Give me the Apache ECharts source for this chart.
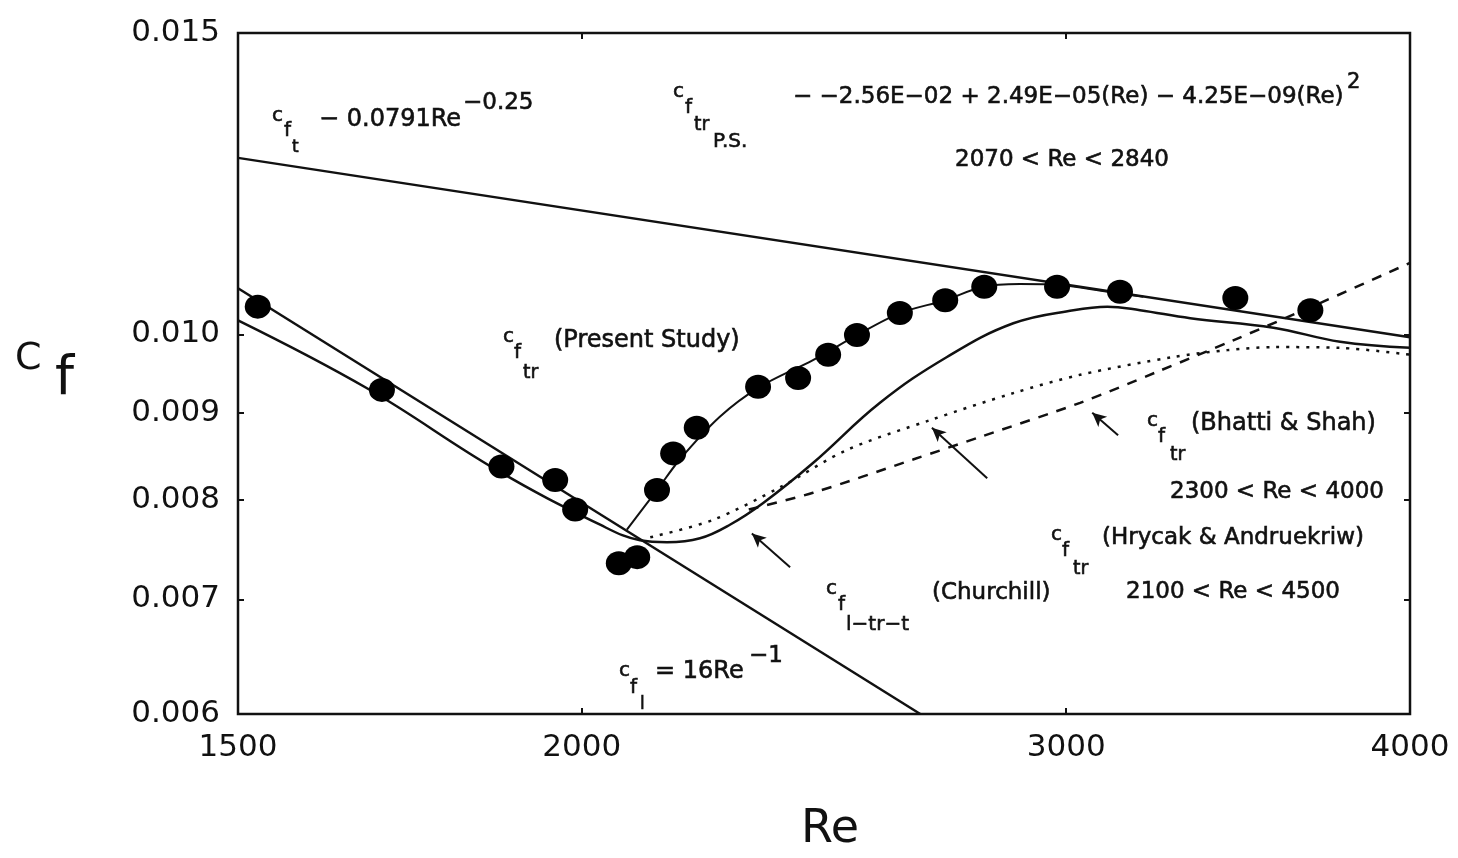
<!DOCTYPE html>
<html>
<head>
<meta charset="utf-8">
<script src="https://cdn.jsdelivr.net/npm/echarts@6/dist/echarts.min.js"></script>
<style>
html,body{margin:0;padding:0;background:#fff;}
#chart{width:1458px;height:858px;}
</style>
</head>
<body>
<div id="chart"></div>
<script>
// ---------- data ----------
const reTicks = [1500, 2000, 3000, 4000];
const reMinorTicks = [2000, 3000];
const cfTicks = [0.006, 0.007, 0.008, 0.009, 0.010, 0.015];

// Present study measurements
const dotsRe = [1525, 1692, 1870, 1956, 1989, 2063, 2095, 2130, 2159, 2202, 2318, 2397, 2458, 2518, 2610, 2711, 2801, 2977, 3138, 3456, 3680];
const dotsCf = [0.01038, 0.00928, 0.00837, 0.00822, 0.00790, 0.00735, 0.00741, 0.00811, 0.00852, 0.00882, 0.00932, 0.00943, 0.00973, 0.00999, 0.01029, 0.01047, 0.01066, 0.01066, 0.01059, 0.01050, 0.01033];

// Turbulent cf = 0.0791 Re^-0.25
const turbRe = [1500, 4000];
const turbCf = [0.01268, 0.00996];

// Laminar cf = 16/Re
const lamRe = [1500, 2655];
const lamCf = [0.01064, 0.00600];

// Present study transition fit
const psRe = [2077, 2130, 2171, 2245, 2322, 2427, 2518, 2610, 2711, 2798, 2886, 2980, 3105, 3200];
const psCf = [0.00769, 0.00811, 0.00845, 0.00895, 0.00932, 0.00966, 0.00999, 0.01029, 0.01047, 0.01066, 0.01070, 0.01069, 0.01059, 0.01052];

// Churchill l-tr-t
const chRe = [1500, 1671, 1863, 2031, 2100, 2148, 2208, 2264, 2328, 2427, 2567, 2715, 2870, 3018, 3105, 3191, 3328, 3568, 3773, 4000];
const chCf = [0.01019, 0.00930, 0.00833, 0.00774, 0.00758, 0.00756, 0.00760, 0.00774, 0.00797, 0.00841, 0.00912, 0.00970, 0.01015, 0.01033, 0.01038, 0.01033, 0.01022, 0.01009, 0.00990, 0.00982];

// Hrycak & Andruekriw
const hrRe = [2118, 2232, 2361, 2497, 2677, 2870, 3035, 3281, 3433, 3568, 3773, 4000];
const hrCf = [0.00761, 0.00779, 0.00814, 0.00856, 0.00891, 0.00924, 0.00947, 0.00970, 0.00979, 0.00983, 0.00982, 0.00973];

// Bhatti & Shah
const bsRe = [2300, 2427, 2639, 2791, 3035, 3238, 3450, 3720, 4000];
const bsCf = [0.00790, 0.00808, 0.00845, 0.00871, 0.00912, 0.00951, 0.00992, 0.01045, 0.01101];

// Pointer arrows: [fromRe, fromCf, toRe, toCf]
const arrowChurchill = [2381, 0.00731, 2306, 0.00765];
const arrowHrycak = [2808, 0.00824, 2681, 0.00882];
const arrowBhatti = [3133, 0.00873, 3066, 0.00900];

// ---------- helpers ----------
const zip = (a, b) => a.map((v, i) => [v, b[i]]);
const INK = '#111';
const FONT = '"DejaVu Sans", "Liberation Sans", sans-serif';

// annotation text layout
const annotations = [
  // turbulent
  {t:'c', x:272, y:116, s:20}, {t:'f', x:284, y:131, s:20}, {t:'t', x:292, y:148, s:17},
  {t:'\u2212 0.0791Re', x:319, y:120, s:24}, {t:'\u22120.25', x:463, y:103, s:23},
  // present study equation
  {t:'c', x:673, y:92, s:20}, {t:'f', x:685, y:108, s:20}, {t:'tr', x:694, y:125, s:19}, {t:'P.S.', x:713, y:142, s:20},
  {t:'\u2212 \u22122.56E\u221202 + 2.49E\u221205(Re) \u2212 4.25E\u221209(Re)', x:793, y:97, s:23},
  {t:'2', x:1347, y:83, s:21},
  {t:'2070 < Re < 2840', x:955, y:160, s:23},
  // present study label
  {t:'c', x:503, y:337, s:20}, {t:'f', x:514, y:353, s:20}, {t:'tr', x:523, y:373, s:19},
  {t:'(Present Study)', x:554, y:341, s:24},
  // Bhatti & Shah
  {t:'c', x:1147, y:421, s:20}, {t:'f', x:1158, y:437, s:20}, {t:'tr', x:1170, y:455, s:19},
  {t:'(Bhatti & Shah)', x:1191, y:424, s:24},
  {t:'2300 < Re < 4000', x:1170, y:492, s:23},
  // Hrycak
  {t:'c', x:1051, y:535, s:20}, {t:'f', x:1062, y:551, s:20}, {t:'tr', x:1073, y:569, s:19},
  {t:'(Hrycak & Andruekriw)', x:1102, y:538, s:23},
  {t:'2100 < Re < 4500', x:1126, y:592, s:23},
  // Churchill
  {t:'c', x:826, y:589, s:20}, {t:'f', x:838, y:605, s:20}, {t:'l\u2212tr\u2212t', x:846, y:625, s:20},
  {t:'(Churchill)', x:932, y:593, s:23},
  // laminar
  {t:'c', x:619, y:671, s:20}, {t:'f', x:630, y:688, s:20}, {t:'l', x:640, y:705, s:17},
  {t:'= 16Re', x:655, y:672, s:24}, {t:'\u22121', x:749, y:656, s:23},
  // axis titles
  {t:'C', x:15, y:359, s:38, w:0}, {t:'f', x:55, y:380, s:54, w:0},
  {t:'Re', x:830, y:830, s:46, a:'center', w:0}
];

const arrowLine = (a) => [{coord:[a[0], a[1]], symbol:'none'}, {coord:[a[2], a[3]], symbol:'arrow'}];

const tickStyle = {color: INK, width: 2};
const option = {
  backgroundColor: '#fff',
  animation: false,
  grid: {left: 238, right: 48, top: 33, bottom: 144, show: true, borderColor: INK, borderWidth: 2.5, backgroundColor: 'transparent'},
  xAxis: [{
    type: 'log', logBase: 10, min: 1500, max: 4000,
    axisLine: {show: false},
    splitLine: {show: false}, minorTick: {show: false}, minorSplitLine: {show: false},
    axisTick: {show: true, inside: true, length: 6, lineStyle: tickStyle, customValues: reMinorTicks},
    axisLabel: {color: INK, fontFamily: FONT, fontSize: 31, margin: 18, customValues: reTicks, formatter: v => String(Math.round(v))}
  }, {
    type: 'log', logBase: 10, min: 1500, max: 4000, position: 'top',
    axisLine: {show: false},
    splitLine: {show: false}, minorTick: {show: false}, minorSplitLine: {show: false},
    axisTick: {show: true, inside: true, length: 6, lineStyle: tickStyle, customValues: reMinorTicks},
    axisLabel: {show: false}
  }],
  yAxis: [{
    type: 'log', logBase: 10, min: 0.006, max: 0.015,
    axisLine: {show: false},
    splitLine: {show: false}, minorTick: {show: false}, minorSplitLine: {show: false},
    axisTick: {show: true, inside: true, length: 6, lineStyle: tickStyle, customValues: cfTicks},
    axisLabel: {color: INK, fontFamily: FONT, fontSize: 31, margin: 18, customValues: cfTicks, formatter: v => v.toFixed(3)}
  }, {
    type: 'log', logBase: 10, min: 0.006, max: 0.015, position: 'right',
    axisLine: {show: false},
    splitLine: {show: false}, minorTick: {show: false}, minorSplitLine: {show: false},
    axisTick: {show: true, inside: true, length: 6, lineStyle: tickStyle, customValues: cfTicks},
    axisLabel: {show: false}
  }],
  series: [
    {name:'turbulent', type:'line', data: zip(turbRe, turbCf), showSymbol:false, lineStyle:{color:INK, width:2.5}, z:3},
    {name:'laminar', type:'line', data: zip(lamRe, lamCf), showSymbol:false, lineStyle:{color:INK, width:2.5}, z:3},
    {name:'present fit', type:'line', data: zip(psRe, psCf), showSymbol:false, smooth:0.3, lineStyle:{color:INK, width:2}, z:3},
    {name:'Churchill', type:'line', data: zip(chRe, chCf), showSymbol:false, smooth:0.4, lineStyle:{color:INK, width:2.5}, z:3,
      markLine: {silent:true, symbolSize:[10,14], label:{show:false}, lineStyle:{color:INK, width:2, type:'solid'},
        data: [arrowLine(arrowChurchill), arrowLine(arrowHrycak), arrowLine(arrowBhatti)]}},
    {name:'Hrycak', type:'line', data: zip(hrRe, hrCf), showSymbol:false, smooth:0.3, lineStyle:{color:INK, width:2.5, type:[3,7]}, z:3},
    {name:'Bhatti', type:'line', data: zip(bsRe, bsCf), showSymbol:false, smooth:0.3, lineStyle:{color:INK, width:2.5, type:[10,9]}, z:3},
    {name:'data', type:'scatter', data: zip(dotsRe, dotsCf), symbol:'circle', symbolSize:[26,24], itemStyle:{color:'#000', opacity:1}, z:5}
  ],
  graphic: annotations.map(a => ({
    type:'text', x:a.x, y:a.y, silent:true,
    style:{text:a.t, font:`${a.s}px ${FONT}`, fill:INK, stroke:INK, lineWidth:(a.w === undefined ? 0.6 : a.w),
      verticalAlign:'middle', align:a.a || 'left'}
  }))
};

const chart = echarts.init(document.getElementById('chart'), null, {renderer:'canvas'});
chart.setOption(option);
</script>
</body>
</html>
